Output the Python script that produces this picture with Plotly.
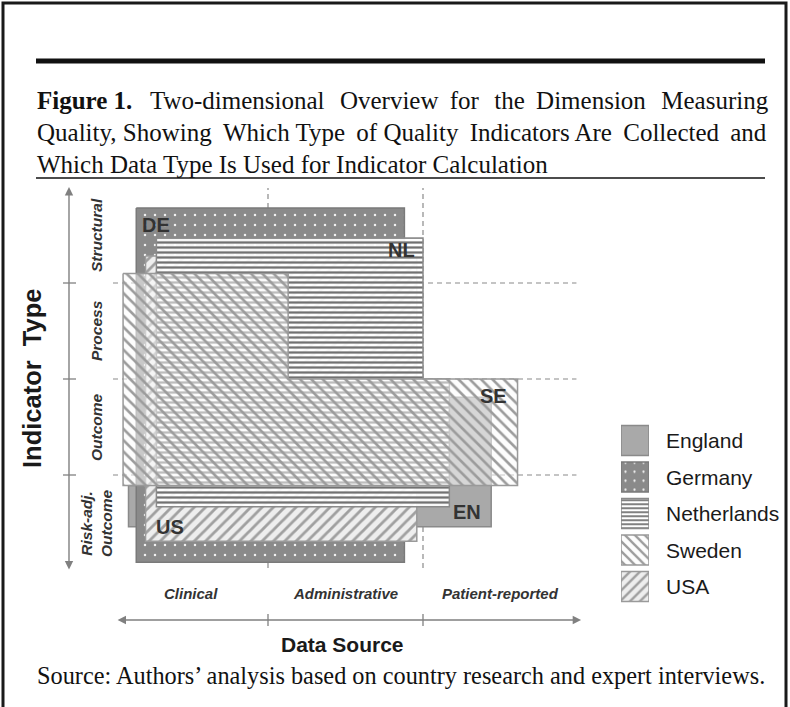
import plotly.graph_objects as go

W, H = 790, 707

# ---------------- data ----------------
data_sources = ["Clinical", "Administrative", "Patient-reported"]
indicator_types = ["Risk-adj.<br>Outcome", "Outcome", "Process", "Structural"]
source_bounds = [1, 2]
type_bounds = [1, 2, 3]

countries = ["England", "Germany", "Netherlands", "Sweden", "USA"]
country_codes = ["EN", "DE", "NL", "SE", "US"]

# outlines in (data-source units, indicator-type units)
england_x = [0.10, 2.17, 2.17, 2.44, 2.44, 0.10]
england_y = [0.89, 0.89, 1.81, 1.81, 0.46, 0.46]
germany_x = [0.15, 1.88, 1.88, 0.15]
germany_y = [3.78, 3.78, 0.09, 0.09]
usa_x = [0.21, 1.96, 1.96, 0.21]
usa_y = [3.28, 3.28, 0.31, 0.31]
netherlands_x = [0.28, 2.00, 2.00, 2.17, 2.17, 0.28]
netherlands_y = [3.47, 3.47, 2.00, 2.00, 0.67, 0.67]
sweden_x = [0.065, 1.13, 1.13, 2.61, 2.61, 0.065]
sweden_y = [3.10, 3.10, 2.00, 2.00, 0.89, 0.89]

outlines = {
    "England": (england_x, england_y),
    "Germany": (germany_x, germany_y),
    "USA": (usa_x, usa_y),
    "Netherlands": (netherlands_x, netherlands_y),
    "Sweden": (sweden_x, sweden_y),
}
draw_order = ["England", "Germany", "USA", "Netherlands", "Sweden"]

# ---------------- styles ----------------
styles = {
    "England": dict(bg="#a9a9a9", shape="", fg="#a9a9a9", size=8, sol=0.3, line="#8a8a8a"),
    "Germany": dict(bg="#8a8a8a", shape=".", fg="#f2f2f2", size=10, sol=0.05, line="#7a7a7a"),
    "USA": dict(bg="rgba(238,238,238,1)", shape="/", fg="#a0a0a0", size=8, sol=0.35, line="#9a9a9a"),
    "Netherlands": dict(bg="rgba(255,255,255,0.92)", shape="-", fg="#727272", size=5, sol=0.45, line="#8a8a8a"),
    "Sweden": dict(bg="rgba(250,250,250,0.55)", shape="\\", fg="#9c9c9c", size=8, sol=0.33, line="#999999"),
}

SANS = "Liberation Sans, Arial, sans-serif"
SERIF = "Liberation Serif, Times New Roman, serif"

# pixel mapping of the full-figure axes
X0_PX, X_UNIT = 113.0, 155.0
Y0_PX, Y_UNIT = 571.0, 96.0
x_range = [-X0_PX / X_UNIT, (W - X0_PX) / X_UNIT]
y_range = [(Y0_PX - H) / Y_UNIT, Y0_PX / Y_UNIT]


def ux(px):
    return (px - X0_PX) / X_UNIT


def vy(py):
    return (Y0_PX - py) / Y_UNIT


def px_(p):
    return p / W


def py_(p):
    return 1 - p / H


fig = go.Figure()

# dashed category boundaries
gx, gy = [], []
for b in source_bounds:
    gx += [b, b, None]
    gy += [0.03, 3.99, None]
for b in type_bounds:
    gx += [0, 2.99, None]
    gy += [b, b, None]
fig.add_trace(go.Scatter(x=gx, y=gy, mode="lines", hoverinfo="skip", showlegend=False,
                         line=dict(color="#8a8a8a", width=1.2, dash="5px,4px")))


def fill_trace(xs, ys, st, xaxis="x", yaxis="y"):
    fp = None
    if st["shape"]:
        fp = dict(shape=st["shape"], bgcolor=st["bg"], fgcolor=st["fg"],
                  size=st["size"], solidity=st["sol"], fillmode="replace")
    return go.Scatter(x=list(xs) + [xs[0]], y=list(ys) + [ys[0]], mode="lines",
                      fill="toself", fillcolor=st["bg"], fillpattern=fp,
                      line=dict(color=st["line"], width=1.5),
                      hoverinfo="skip", showlegend=False, xaxis=xaxis, yaxis=yaxis)


for c in draw_order:
    xs, ys = outlines[c]
    fig.add_trace(fill_trace(xs, ys, styles[c]))

# axis tick marks
tx, ty = [], []
for b in type_bounds:
    tx += [ux(63), ux(76), None]
    ty += [b, b, None]
for b in source_bounds:
    tx += [b, b, None]
    ty += [vy(614), vy(626), None]
fig.add_trace(go.Scatter(x=tx, y=ty, mode="lines", hoverinfo="skip", showlegend=False,
                         line=dict(color="#808080", width=1.3)))

ann = []
# axis arrows
ann.append(dict(x=ux(69), y=4.0, ax=ux(69), ay=0.0, xref="x", yref="y", axref="x", ayref="y",
                text="", showarrow=True, arrowhead=2, arrowside="end+start", arrowsize=1.2,
                arrowwidth=1.4, arrowcolor="#808080"))
ann.append(dict(x=3.02, y=vy(620), ax=0.02, ay=vy(620), xref="x", yref="y", axref="x", ayref="y",
                text="", showarrow=True, arrowhead=2, arrowside="end+start", arrowsize=1.2,
                arrowwidth=1.4, arrowcolor="#808080"))

# category labels
for i, lab in enumerate(indicator_types):
    ann.append(dict(x=ux(96), y=i + 0.5, xref="x", yref="y", text="<i><b>%s</b></i>" % lab,
                    xanchor="center", yanchor="middle",
                    showarrow=False, textangle=-90, font=dict(family=SANS, size=15.5, color="#333333")))
for i, lab in enumerate(data_sources):
    ann.append(dict(x=i + 0.5, y=vy(593), xref="x", yref="y", text="<i><b>%s</b></i>" % lab,
                    xanchor="center", yanchor="middle",
                    showarrow=False, font=dict(family=SANS, size=15, color="#333333")))

ann.append(dict(x=px_(342), y=py_(644), xref="paper", yref="paper", text="<b>Data Source</b>",
                xanchor="center", yanchor="middle",
                showarrow=False, font=dict(family=SANS, size=21, color="#1a1a1a")))
ann.append(dict(x=px_(32), y=py_(379), xref="paper", yref="paper",
                text="<b>Indicator\u00a0\u00a0Type</b>", xanchor="center", yanchor="middle",
                showarrow=False, textangle=-90, font=dict(family=SANS, size=25.5, color="#1a1a1a")))

# country code labels on the shapes
code_of = dict(zip(countries, country_codes))
label_spec = {
    "Germany": ("min", "max", "left", 4, -17),
    "Netherlands": ("max", "max", "right", -6, -12),
    "Sweden": ("max", "step", "right", -9, -17),
    "England": ("max", "min", "right", -8, 15),
    "USA": ("min", "min", "left", 8, 14),
}
for c, (hx, hy, xa, xs_, ys_) in label_spec.items():
    xs, ys = outlines[c]
    if c == "Netherlands":
        lx = xs[1]
    else:
        lx = min(xs) if hx == "min" else max(xs)
    if hy == "step":
        ly = ys[2]
    else:
        ly = min(ys) if hy == "min" else max(ys)
    ann.append(dict(x=lx, y=ly, xref="x", yref="y", text="<b>%s</b>" % code_of[c], showarrow=False,
                    xanchor=xa, yanchor="middle", xshift=xs_, yshift=ys_,
                    font=dict(family=SANS, size=20, color="#333333")))

# legend (own small axes)
for i, c in enumerate(countries):
    fig.add_trace(fill_trace([0, 1, 1, 0], [i - 0.41, i - 0.41, i + 0.41, i + 0.41],
                             dict(styles[c], size=max(4, styles[c]["size"] - 1)),
                             xaxis="x2", yaxis="y2"))
    ann.append(dict(x=1, y=i, xref="x2", yref="y2", text=c, showarrow=False, xanchor="left",
                    yanchor="middle", xshift=15, font=dict(family=SANS, size=21, color="#1a1a1a")))

# title & source (extra thin spaces emulate the justified setting)
TS = " \u2009"
TSH = " \u2009\u200a\u200a"
title_lines = [
    "<b>Figure 1.</b>\u00a0\u00a0\u2009Two-dimensional" + TSH + "Overview" + TS + "for" + TSH
    + "the" + TS + "Dimension" + TSH + "Measuring",
    "Quality, Showing" + TS + "Which Type" + TS + "of Quality" + TS + "Indicators Are" + TS
    + "Collected" + TS + "and",
    "Which Data Type Is Used for Indicator Calculation",
]
for t, yc in zip(title_lines, [100, 133, 164]):
    ann.append(dict(x=px_(35), y=py_(yc), xref="paper", yref="paper", text=t, showarrow=False,
                    xanchor="left", yanchor="middle", font=dict(family=SERIF, size=25, color="#111111")))
ann.append(dict(x=px_(35), y=py_(675), xref="paper", yref="paper",
                text="Source: Authors\u2019 analysis based on country research and expert interviews.",
                showarrow=False, xanchor="left", yanchor="middle",
                font=dict(family=SERIF, size=24.3, color="#111111")))

shapes = [
    dict(type="path", xref="paper", yref="paper",
         path="M %f %f L %f %f L %f %f L %f %f" % (px_(3), py_(720), px_(3), py_(3), px_(786), py_(3), px_(786), py_(720)),
         line=dict(color="#1a1a1a", width=3)),
    dict(type="line", xref="paper", yref="paper", x0=px_(36), x1=px_(765), y0=py_(61), y1=py_(61),
         line=dict(color="#111111", width=5)),
    dict(type="line", xref="paper", yref="paper", x0=px_(36), x1=px_(765), y0=py_(178), y1=py_(178),
         line=dict(color="#111111", width=1.5)),
]

leg_top, leg_bot = 440.5 - 18.25, 586.5 + 18.25
fig.update_layout(
    width=W, height=H, autosize=False,
    margin=dict(l=0, r=0, t=0, b=0),
    paper_bgcolor="white", plot_bgcolor="rgba(0,0,0,0)",
    showlegend=False,
    xaxis=dict(range=x_range, domain=[0, 1], visible=False, fixedrange=True),
    yaxis=dict(range=y_range, domain=[0, 1], visible=False, fixedrange=True),
    xaxis2=dict(range=[0, 1], domain=[621 / W, 649 / W], visible=False, anchor="y2", fixedrange=True),
    yaxis2=dict(range=[4.5, -0.5], domain=[1 - leg_bot / H, 1 - leg_top / H], visible=False,
                anchor="x2", fixedrange=True),
    annotations=ann,
    shapes=shapes,
)

fig.write_html("out.html", config=dict(displayModeBar=False),
               post_script="document.body.style.margin='0';document.body.style.overflow='hidden';")
